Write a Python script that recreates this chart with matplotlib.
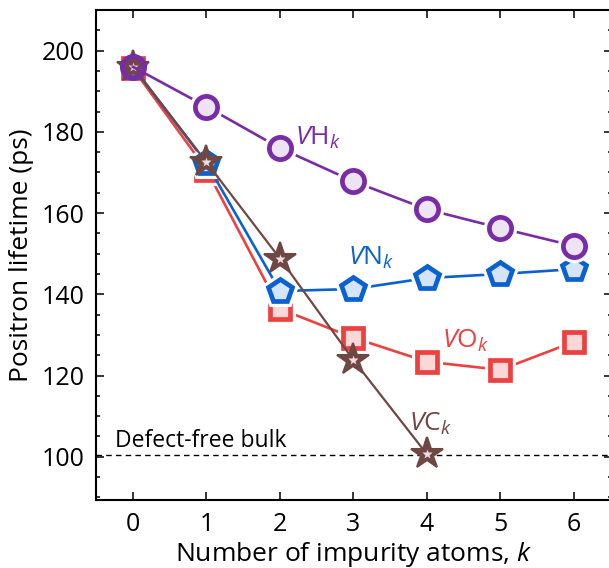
import matplotlib
matplotlib.use("Agg")
import matplotlib.pyplot as plt
from matplotlib.ticker import MultipleLocator

plt.rcParams["font.family"] = ["Open Sans", "DejaVu Sans"]
plt.rcParams["mathtext.fontset"] = "custom"
plt.rcParams["mathtext.rm"] = "Open Sans"
plt.rcParams["mathtext.it"] = "Open Sans:italic"

# datos
k = [0, 1, 2, 3, 4, 5, 6]
vh = [196.0, 186.2, 176.0, 167.8, 160.9, 156.3, 151.9]
vn = [196.0, 172.3, 140.8, 141.3, 144.0, 145.0, 146.2]
vo = [195.6, 170.7, 136.4, 129.3, 123.4, 121.4, 128.3]
k_vc = [0, 1, 2, 3, 4]
vc = [196.0, 172.5, 148.8, 123.8, 100.6]
bulk = 100.4

purple = "#7A2CA6"
blue = "#0A62D0"
red = "#EF4040"
brown = "#704843"

fig = plt.figure(figsize=(6.09, 5.68), dpi=100)
ax = fig.add_axes([96 / 609, 68 / 568, 516 / 609, 490 / 568])

ax.axhline(bulk, color="black", linestyle=(0, (4, 3)), linewidth=1.0, zorder=1)


def serie(x, y, color, marker, ms, z, alpha):
    ax.plot(x, y, color=color, linewidth=1.9, zorder=z)
    # halo blanco para que la linea no toque el marcador
    ax.plot(x, y, linestyle="none", marker=marker, markersize=ms,
            markerfacecolor="white", markeredgecolor="white",
            markeredgewidth=8, markevery=slice(1, None), zorder=z + 0.1)
    ax.plot(x, y, linestyle="none", marker=marker, markersize=ms,
            markerfacecolor=matplotlib.colors.to_rgba(color, alpha),
            markeredgecolor=color, markeredgewidth=3.4, zorder=z + 0.2)


serie(k, vo, red, "s", 14, 3, 0.2)
serie(k, vn, blue, "p", 18, 4, 0.17)

ax.plot(k_vc, vc, color=brown, linewidth=1.6, zorder=5)
ax.plot(k_vc, vc, linestyle="none", marker="*", markersize=24,
        markerfacecolor=brown, markeredgecolor=brown, markeredgewidth=1.5, zorder=5.2)
ax.plot(k_vc, vc, linestyle="none", marker="*", markersize=7,
        markerfacecolor="#F2DCE4", markeredgecolor="none", zorder=5.3)

serie(k, vh, purple, "o", 16, 6, 0.13)

ax.text(2.2, 178.6, r"$\mathit{V}\mathrm{H}_{\mathit{k}}$", color=purple, fontsize=19, va="center")
ax.text(2.92, 149.0, r"$\mathit{V}\mathrm{N}_{\mathit{k}}$", color=blue, fontsize=19, va="center")
ax.text(4.2, 128.5, r"$\mathit{V}\mathrm{O}_{\mathit{k}}$", color=red, fontsize=19, va="center")
ax.text(3.75, 108.0, r"$\mathit{V}\mathrm{C}_{\mathit{k}}$", color=brown, fontsize=19, va="center")
ax.text(-0.25, 102.5, "Defect-free bulk", color="black", fontsize=16.5, va="baseline")

ax.set_xlim(-0.503, 6.517)
ax.set_ylim(89.35, 210.0)
ax.xaxis.set_major_locator(MultipleLocator(1))
ax.yaxis.set_major_locator(MultipleLocator(20))
ax.yaxis.set_minor_locator(MultipleLocator(5))
ax.tick_params(which="both", direction="in", top=True, right=True, labelsize=18, width=1.1)
ax.tick_params(which="major", length=5.5, pad=8.5)
ax.tick_params(which="minor", length=3)
for s in ax.spines.values():
    s.set_linewidth(1.5)

ax.set_xlabel(r"Number of impurity atoms, $\mathit{k}$", fontsize=19, labelpad=2)
ax.set_ylabel("Positron lifetime (ps)", fontsize=19, labelpad=5)

fig.savefig("out.png", dpi=100)
